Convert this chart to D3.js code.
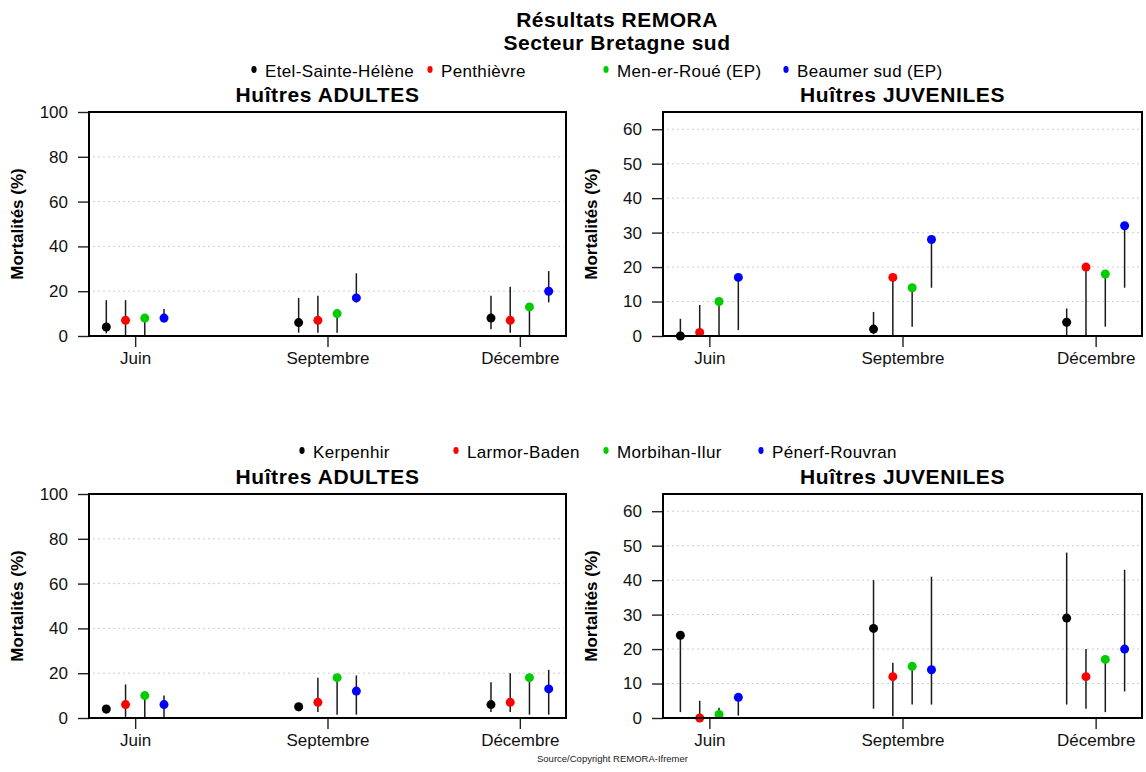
<!DOCTYPE html>
<html>
<head>
<meta charset="utf-8">
<script src="https://cdn.jsdelivr.net/npm/d3@7"></script>
<style>
  html, body { margin: 0; padding: 0; background: #fff; }
  svg { display: block; font-family: "Liberation Sans", Arial, Helvetica, sans-serif; }
</style>
</head>
<body>
<svg id="chart" width="1146" height="772"></svg>
<script>
// ---------- DATA ----------
const months = ["Juin", "Septembre", "Décembre"];
const sitesTop = ["Etel-Sainte-Hélène", "Penthièvre", "Men-er-Roué (EP)", "Beaumer sud (EP)"];
const sitesBottom = ["Kerpenhir", "Larmor-Baden", "Morbihan-Ilur", "Pénerf-Rouvran"];
const siteColors = ["#000000", "#ff0000", "#00cd00", "#0000ff"];
const adultTicks = [0, 20, 40, 60, 80, 100];
const juvenileTicks = [0, 10, 20, 30, 40, 50, 60];

// values[site][month]  (Juin, Septembre, Décembre)
const adultTopMean = [[4, 6, 8], [7, 7, 7], [8, 10, 13], [8, 17, 20]];
const adultTopLow  = [[1.2, 1.5, 3], [0, 1.5, 1.5], [0, 1.5, 0], [6, 15, 15]];
const adultTopHigh = [[16, 17, 18], [16, 18, 22], [8, 10, 13], [12, 28, 29]];

const juvTopMean = [[0, 2, 4], [1, 17, 20], [10, 14, 18], [17, 28, 32]];
const juvTopLow  = [[0, 0.5, 0], [0, 0, 0], [0, 2.7, 2.7], [1.7, 14, 14]];
const juvTopHigh = [[5, 7, 8], [9, 17, 20], [10, 14, 18], [17, 28, 32]];

const adultBotMean = [[4, 5, 6], [6, 7, 7], [10, 18, 18], [6, 12, 13]];
const adultBotLow  = [[2, 3, 2.7], [0.5, 2.7, 2.7], [0.5, 1.5, 1.5], [0.5, 1.5, 1.5]];
const adultBotHigh = [[4, 6, 16], [15, 18, 20], [10, 18, 18], [10, 19, 21.5]];

const juvBotMean = [[24, 26, 29], [0, 12, 12], [1, 15, 17], [6, 14, 20]];
const juvBotLow  = [[1.7, 2.7, 3.9], [0, 0.5, 2.7], [0, 3.9, 1.7], [0.7, 3.9, 7.7]];
const juvBotHigh = [[24, 40, 48], [5, 16, 20], [3, 15, 17], [6, 41, 43]];

// ---------- LAYOUT ----------
const svg = d3.select("#chart");
const FONT = '"Liberation Sans", Arial, Helvetica, sans-serif';
const siteOffsets = [-0.15, -0.05, 0.05, 0.15];

const panels = [
  { title: "Huîtres ADULTES",   x0: 89,  x1: 566,  y0: 112, y1: 336, max: 100, ticks: adultTicks,    mean: adultTopMean, low: adultTopLow, high: adultTopHigh },
  { title: "Huîtres JUVENILES", x0: 663, x1: 1142, y0: 112, y1: 336, max: 65,  ticks: juvenileTicks, mean: juvTopMean,   low: juvTopLow,   high: juvTopHigh },
  { title: "Huîtres ADULTES",   x0: 89,  x1: 566,  y0: 494, y1: 718, max: 100, ticks: adultTicks,    mean: adultBotMean, low: adultBotLow, high: adultBotHigh },
  { title: "Huîtres JUVENILES", x0: 663, x1: 1142, y0: 494, y1: 718, max: 65,  ticks: juvenileTicks, mean: juvBotMean,   low: juvBotLow,   high: juvBotHigh }
];

// Main titles
svg.append("text").attr("x", 617).attr("y", 26.5).attr("text-anchor", "middle")
  .style("font-size", "21px").style("font-weight", "bold").style("letter-spacing", "0.5px")
  .text("Résultats REMORA");
svg.append("text").attr("x", 617).attr("y", 49.5).attr("text-anchor", "middle")
  .style("font-size", "21px").style("font-weight", "bold").style("letter-spacing", "0.5px")
  .text("Secteur Bretagne sud");

// Legends
const legendLayouts = [
  { names: sitesTop,    y: 77,  dotX: [254, 430, 606, 786] },
  { names: sitesBottom, y: 458, dotX: [302, 456, 606, 761] }
];
legendLayouts.forEach(L => {
  const g = svg.append("g");
  L.names.forEach((name, i) => {
    g.append("ellipse").attr("cx", L.dotX[i]).attr("cy", L.y - 7.5)
      .attr("rx", 2.6).attr("ry", 3.4).attr("fill", siteColors[i]);
    g.append("text").attr("x", L.dotX[i] + 11).attr("y", L.y)
      .style("font-size", "17px").style("letter-spacing", "0.35px")
      .text(name);
  });
});

// Panels
panels.forEach(p => {
  const g = svg.append("g");
  const x = d3.scaleLinear().domain([0.76, 3.24]).range([p.x0, p.x1]);
  const y = d3.scaleLinear().domain([0, p.max]).range([p.y1, p.y0]);

  // grid
  g.append("g").selectAll("line")
    .data(p.ticks.filter(t => t > 0 && t < p.max))
    .join("line")
    .attr("x1", p.x0 + 4).attr("x2", p.x1 - 2)
    .attr("y1", d => y(d)).attr("y2", d => y(d))
    .attr("stroke", "#cfcfcf").attr("stroke-width", 1)
    .attr("stroke-dasharray", "2,3");

  // y axis
  const ya = g.append("g").attr("transform", `translate(${p.x0},0)`)
    .call(d3.axisLeft(y).tickValues(p.ticks).tickSize(11).tickPadding(10).tickFormat(d3.format("d")));
  ya.select(".domain").remove();
  ya.selectAll(".tick line").attr("stroke", "#222").attr("stroke-width", 1.4);
  ya.selectAll(".tick text").style("font-size", "17px").style("font-family", FONT).attr("fill", "#111");

  // x axis
  const xa = g.append("g").attr("transform", `translate(0,${p.y1})`)
    .call(d3.axisBottom(x).tickValues([1, 2, 3]).tickSize(11).tickPadding(5)
      .tickFormat(i => months[i - 1]));
  xa.select(".domain").remove();
  xa.selectAll(".tick line").attr("stroke", "#222").attr("stroke-width", 1.4);
  xa.selectAll(".tick text").style("font-size", "17px").style("font-family", FONT).attr("fill", "#111");

  // y title
  g.append("text")
    .attr("transform", `translate(${p.x0 - 66},${(p.y0 + p.y1) / 2}) rotate(-90)`)
    .attr("text-anchor", "middle")
    .style("font-size", "17px").style("font-weight", "bold")
    .text("Mortalités (%)");

  // panel title
  g.append("text").attr("x", (p.x0 + p.x1) / 2).attr("y", p.y0 - 10)
    .attr("text-anchor", "middle")
    .style("font-size", "21px").style("font-weight", "bold").style("letter-spacing", "0.6px")
    .text(p.title);

  // error bars and points
  const pts = [];
  p.mean.forEach((row, s) => row.forEach((v, m) => {
    pts.push({ s, m, v, lo: p.low[s][m], hi: p.high[s][m] });
  }));
  g.append("g").selectAll("line").data(pts).join("line")
    .attr("x1", d => x(d.m + 1 + siteOffsets[d.s]))
    .attr("x2", d => x(d.m + 1 + siteOffsets[d.s]))
    .attr("y1", d => y(d.lo)).attr("y2", d => y(d.hi))
    .attr("stroke", "#1a1a1a").attr("stroke-width", 1.5);
  g.append("g").selectAll("circle").data(pts).join("circle")
    .attr("cx", d => x(d.m + 1 + siteOffsets[d.s]))
    .attr("cy", d => y(d.v))
    .attr("r", 4.5)
    .attr("fill", d => siteColors[d.s]);

  // box
  g.append("rect").attr("x", p.x0).attr("y", p.y0)
    .attr("width", p.x1 - p.x0).attr("height", p.y1 - p.y0)
    .attr("fill", "none").attr("stroke", "#000").attr("stroke-width", 2);
});

// Source
svg.append("text").attr("x", 612.5).attr("y", 762).attr("text-anchor", "middle")
  .style("font-size", "9.5px").style("fill", "#222")
  .text("Source/Copyright REMORA-Ifremer");
</script>
</body>
</html>
